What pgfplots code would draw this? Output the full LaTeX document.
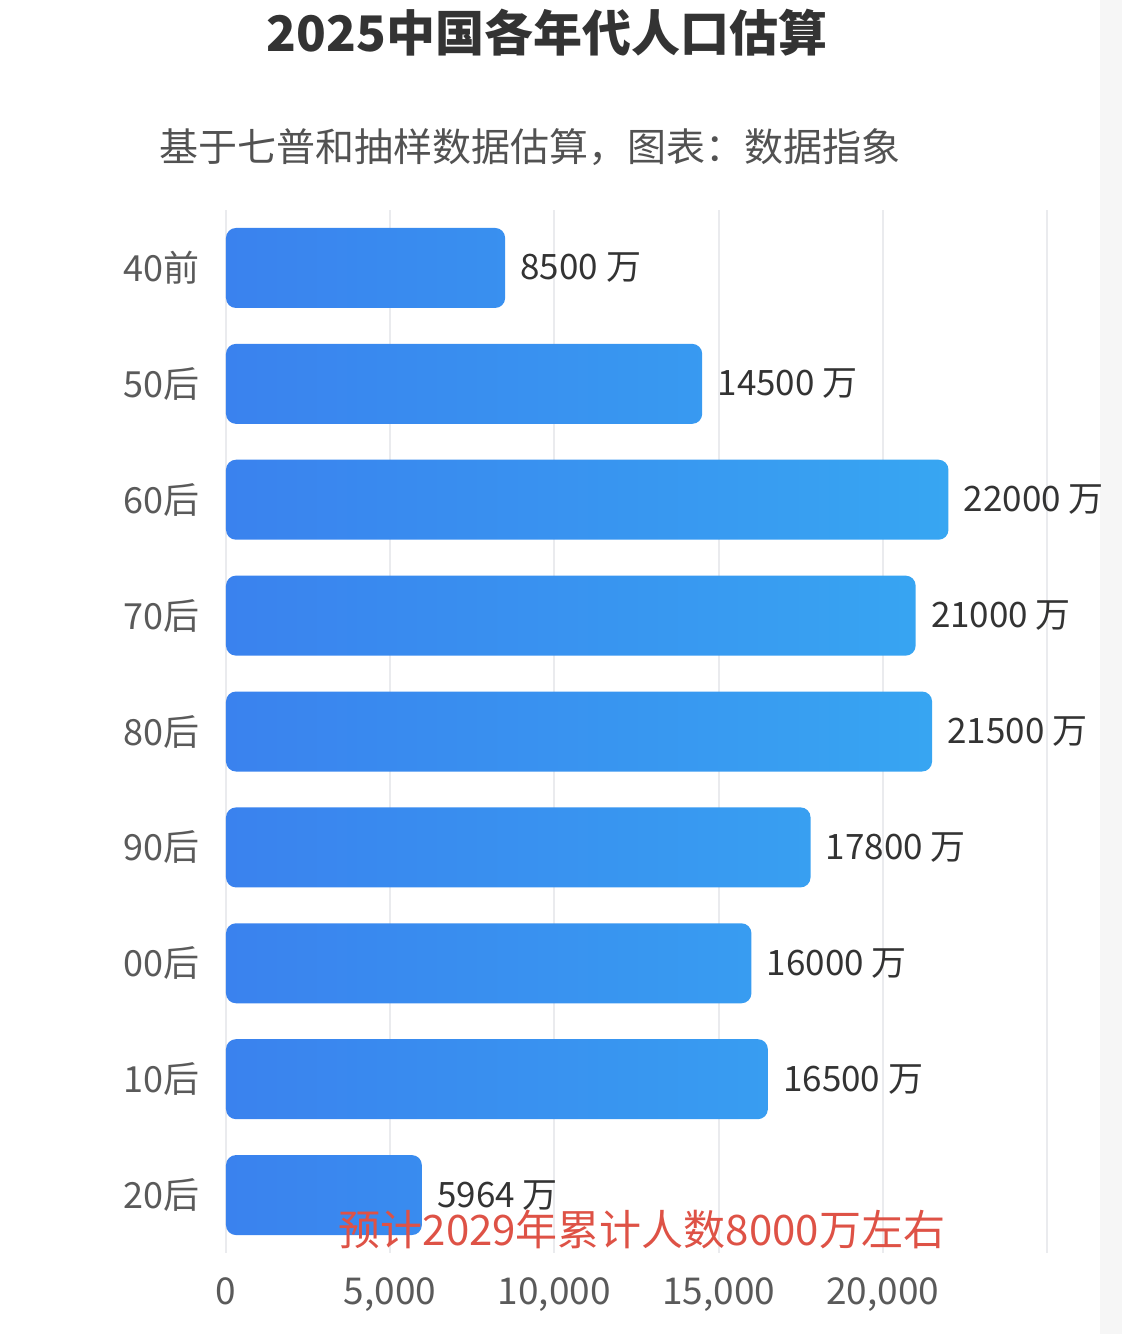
\documentclass[border=0pt]{standalone}
\usepackage{fontspec}
\usepackage{pgfplots}
\pgfplotsset{compat=1.18}
\usepackage{pgfplotstable}
\newfontfamily\cjk{Noto Sans CJK SC}

\definecolor{barL}{RGB}{58,130,238}
\definecolor{barR}{RGB}{55,166,242}
\definecolor{gridc}{RGB}{234,235,238}
\definecolor{txt}{RGB}{51,51,51}
\definecolor{lbl}{RGB}{90,90,90}
\definecolor{note}{RGB}{222,82,70}

\pgfplotstableread{
idx val
0 8500
1 14500
2 22000
3 21000
4 21500
5 17800
6 16000
7 16500
8 5964
}\popdata

\begin{document}
\begin{tikzpicture}
\path[use as bounding box] (-113pt,-40.5pt) rectangle (448pt,626.5pt);
\fill[gray!7] (437pt,-40.5pt) rectangle (448pt,626.5pt);
\begin{axis}[
  at={(0,0)}, anchor=south west,
  scale only axis, width=410.5pt, height=521.5pt,
  xbar, bar width=40pt,
  xmin=0, xmax=25000, ymin=-0.5, ymax=8.5,
  y dir=reverse,
  ytick=data,
  yticklabels={40前,50后,60后,70后,80后,90后,00后,10后,20后},
  xtick={0,5000,10000,15000,20000,25000},
  xticklabels={0,{5,000},{10,000},{15,000},{20,000},{}},
  xmajorgrids, grid style={gridc, line width=1pt},
  axis line style={draw=none},
  major tick length=0pt,
  clip=false,
  yticklabel style={font=\cjk\fontsize{18}{18}\selectfont, text=lbl, inner sep=0pt, anchor=east, xshift=-13pt},
  xticklabel style={font=\cjk\fontsize{18.5}{18.5}\selectfont, text=lbl, inner sep=0pt, anchor=north, yshift=-12pt},
  /pgf/number format/assume math mode=true,
  nodes near coords={\pgfmathprintnumber[fixed,1000 sep={}]{\pgfplotspointmeta}~万},
  point meta=x,
  nodes near coords style={font=\cjk\fontsize{17.5}{17.5}\selectfont, text=txt, anchor=west, inner sep=0pt, xshift=7.5pt},
]
\addplot[draw=none, left color=barL, right color=barR, rounded corners=5pt] table[x=val, y=idx] {\popdata};
\end{axis}
\node[font=\cjk\bfseries\fontsize{24.5}{24.5}\selectfont, text=txt] at (160.5pt,610pt) {2025中国各年代人口估算};
\node[font=\cjk\fontsize{19.5}{19.5}\selectfont, text=txt!85] at (152pt,553pt) {基于七普和抽样数据估算，图表：数据指象};
\node[font=\cjk\fontsize{21}{21}\selectfont, text=note] at (208pt,11.5pt) {预计2029年累计人数8000万左右};
\end{tikzpicture}
\end{document}
